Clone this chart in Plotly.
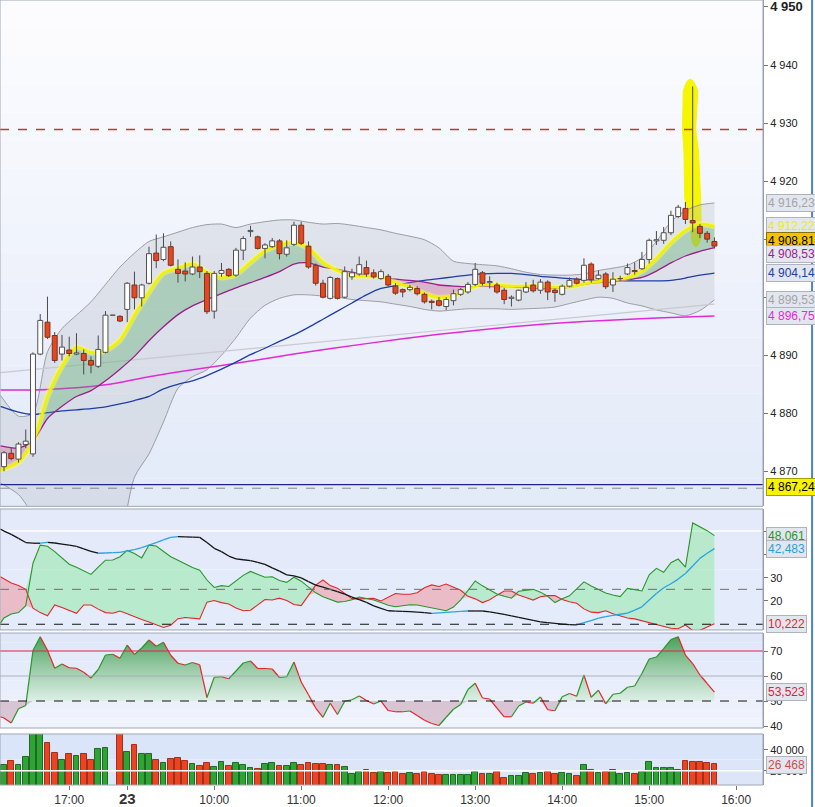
import plotly.graph_objects as go

# 5-minute bars, slot index on the x axis (slot 15 = overnight break)
bar_idx = list(range(99))
opens = [4870.8, 4873.1, 4872.1, 4874.6, 4873.0, 4890.2, 4895.7, 4893.4, 4890.2, 4890.9,
         4890.2, 4890.3, 4889.1, 4888.1, 4890.5, 4896.9, 4896.7, 4897.9, 4902.1, 4899.9,
         4902.4, 4907.6, 4906.5, 4908.7, 4904.8, 4904.5, 4904.0, 4905.2, 4904.1, 4897.6,
         4904.1, 4904.8, 4903.8, 4908.1, 4911.3, 4910.4, 4908.4, 4908.7, 4909.7, 4907.4,
         4909.1, 4912.4, 4908.8, 4905.5, 4902.4, 4899.8, 4903.2, 4900.0, 4903.5, 4904.0,
         4905.1, 4904.2, 4903.2, 4903.6, 4901.9, 4901.3, 4901.3, 4901.5, 4900.5, 4899.3,
         4899.4, 4898.4, 4899.4, 4900.5, 4900.9, 4902.2, 4904.2, 4902.5, 4902.1, 4901.2,
         4899.8, 4899.5, 4900.9, 4902.1, 4901.2, 4902.6, 4901.2, 4900.5, 4901.9, 4903.1,
         4902.9, 4905.7, 4903.2, 4904.0, 4902.1, 4903.2, 4904.0, 4904.6, 4904.9, 4906.5,
         4909.7, 4909.8, 4911.1, 4913.9, 4915.3, 4913.2, 4912.2, 4911.0, 4909.6]
highs = [4873.5, 4874.0, 4875.0, 4877.2, 4890.5, 4897.1, 4900.1, 4894.0, 4893.5, 4893.2,
         4893.8, 4891.0, 4889.8, 4893.4, 4897.6, 4896.9, 4896.9, 4902.6, 4904.4, 4902.3,
         4908.7, 4910.8, 4911.0, 4909.6, 4906.5, 4906.0, 4907.0, 4907.2, 4904.5, 4904.5,
         4905.9, 4905.0, 4908.5, 4910.5, 4912.3, 4910.6, 4909.3, 4910.2, 4910.0, 4909.8,
         4913.0, 4913.0, 4909.6, 4905.8, 4903.0, 4903.6, 4903.4, 4905.3, 4904.9, 4907.0,
         4906.3, 4904.8, 4904.8, 4904.0, 4902.4, 4901.5, 4902.1, 4901.9, 4900.8, 4899.6,
         4900.0, 4900.0, 4901.3, 4901.6, 4902.6, 4905.9, 4904.5, 4903.6, 4902.5, 4901.6,
         4900.3, 4901.3, 4902.6, 4903.0, 4903.1, 4902.9, 4901.5, 4902.2, 4903.4, 4903.4,
         4906.7, 4906.0, 4904.6, 4904.3, 4904.3, 4903.7, 4905.8, 4906.0, 4907.8, 4910.1,
         4911.4, 4912.1, 4914.9, 4915.9, 4916.4, 4936.3, 4912.6, 4911.4, 4910.3]
lows = [4870.0, 4871.9, 4871.5, 4874.0, 4872.5, 4890.0, 4892.8, 4888.7, 4889.1, 4889.8,
        4890.0, 4886.7, 4886.9, 4887.8, 4890.3, 4896.9, 4895.7, 4895.7, 4897.9, 4898.4,
        4902.2, 4905.0, 4906.2, 4905.3, 4902.5, 4902.7, 4903.8, 4903.3, 4897.1, 4896.3,
        4903.5, 4903.5, 4903.5, 4906.4, 4910.4, 4908.2, 4906.7, 4908.5, 4906.5, 4907.0,
        4908.8, 4909.0, 4904.9, 4902.0, 4899.8, 4899.6, 4899.6, 4899.8, 4903.0, 4903.7,
        4903.5, 4903.2, 4903.0, 4901.8, 4900.4, 4900.0, 4901.0, 4900.3, 4898.9, 4897.9,
        4898.4, 4897.8, 4898.6, 4900.2, 4900.6, 4901.9, 4902.0, 4901.5, 4900.6, 4898.8,
        4898.4, 4899.3, 4900.7, 4900.8, 4900.6, 4899.5, 4899.2, 4900.3, 4901.7, 4902.2,
        4902.5, 4902.5, 4903.0, 4901.4, 4900.9, 4902.8, 4903.8, 4903.9, 4904.7, 4905.8,
        4909.0, 4909.2, 4910.7, 4913.6, 4912.6, 4911.2, 4910.2, 4909.4, 4908.4]
closes = [4873.2, 4872.2, 4874.7, 4875.2, 4890.2, 4896.0, 4893.1, 4889.1, 4891.4, 4890.3,
          4890.4, 4889.1, 4888.3, 4891.0, 4896.9, 4896.9, 4895.9, 4902.4, 4899.9, 4902.1,
          4907.5, 4906.3, 4908.6, 4905.5, 4904.1, 4904.0, 4905.2, 4904.4, 4897.5, 4904.1,
          4904.6, 4903.7, 4908.1, 4910.1, 4911.5, 4908.4, 4909.0, 4909.7, 4907.5, 4908.5,
          4912.4, 4909.3, 4905.2, 4902.4, 4900.0, 4903.4, 4899.8, 4904.4, 4904.2, 4905.6,
          4904.0, 4903.5, 4904.4, 4902.1, 4900.7, 4900.9, 4901.7, 4900.6, 4899.2, 4899.1,
          4898.6, 4899.6, 4900.6, 4901.3, 4902.2, 4904.8, 4902.4, 4902.7, 4900.9, 4899.6,
          4900.0, 4901.2, 4901.7, 4901.1, 4902.6, 4900.9, 4900.8, 4901.9, 4902.9, 4902.4,
          4905.5, 4903.0, 4903.8, 4901.8, 4903.1, 4903.3, 4905.1, 4904.4, 4906.5, 4909.8,
          4909.9, 4911.1, 4914.1, 4915.5, 4913.4, 4912.8, 4911.0, 4910.0, 4908.81]
volumes = [25714, 29524, 25714, 33333, 58000, 62000, 46349, 36825, 30476, 35873,
           34286, 35873, 30476, 40952, 41587, None, 60000, 37778, 44762, 35873,
           35873, 30476, 27302, 31111, 32063, 29524, 26349, 24762, 27302, 23492,
           28254, 24762, 27302, 25397, 22540, 21587, 26349, 27302, 24762, 24762,
           27302, 25714, 27302, 26349, 26349, 25714, 25714, 23492, 16825, 18730,
           20952, 17778, 18730, 17778, 18730, 16825, 17778, 16825, 18730, 16825,
           16190, 16190, 16190, 15556, 16190, 18730, 17143, 17143, 18730, 12698,
           15238, 15238, 17778, 17143, 17778, 18730, 17143, 17778, 16825, 15238,
           25714, 20952, 17778, 18730, 20952, 16825, 17778, 17143, 18730, 28254,
           22540, 22540, 22540, 20952, 29524, 28254, 28254, 27302, 26468]

# overlays on the price panel, read every second slot
ov_x = [-0.5] + list(range(2, 99, 2))
ema_fast = [4870.2, 4871.6, 4875.0, 4882.9, 4888.1, 4891.4, 4890.5, 4890.8, 4892.6, 4896.9,
            4900.9, 4904.2, 4905.0, 4905.8, 4904.3, 4903.4, 4903.9, 4906.0, 4908.0, 4909.0,
            4909.4, 4908.5, 4906.0, 4904.6, 4903.7, 4903.6, 4903.5, 4902.5, 4901.7, 4900.6,
            4899.9, 4900.2, 4901.4, 4902.2, 4902.1, 4901.9, 4901.9, 4901.9, 4901.7, 4901.8,
            4902.3, 4902.7, 4903.0, 4903.4, 4904.5, 4906.7, 4909.4, 4911.5, 4912.6, 4912.22]
ema_slow = [4874.4, 4874.0, 4875.2, 4879.1, 4881.2, 4882.9, 4883.9, 4885.6, 4887.6, 4889.8,
            4892.5, 4894.9, 4897.0, 4898.5, 4899.6, 4900.6, 4901.6, 4902.5, 4903.4, 4904.4,
            4905.7, 4905.9, 4905.2, 4904.8, 4904.3, 4903.8, 4903.4, 4903.1, 4902.9, 4902.6,
            4902.1, 4901.9, 4901.8, 4901.9, 4901.8, 4901.8, 4901.6, 4901.5, 4901.5, 4901.7,
            4902.2, 4902.5, 4902.6, 4903.0, 4903.4, 4904.5, 4905.9, 4907.1, 4907.9, 4908.53]
bb_upper = [4883.1, 4879.5, 4880.0, 4890.6, 4894.6, 4896.9, 4899.2, 4902.2, 4905.2, 4907.6,
            4909.6, 4910.4, 4911.2, 4912.0, 4912.5, 4912.6, 4912.0, 4912.6, 4913.0, 4913.3,
            4913.3, 4912.9, 4912.6, 4912.7, 4912.4, 4912.0, 4911.6, 4911.0, 4910.5, 4909.9,
            4908.5, 4906.2, 4905.8, 4905.6, 4905.4, 4904.9, 4904.3, 4903.9, 4903.8, 4903.8,
            4904.0, 4904.6, 4905.0, 4905.5, 4906.8, 4909.6, 4913.0, 4914.9, 4915.9, 4916.23]
bb_lower = [4868.0, 4866.0, 4862.5, 4858.0, 4855.0, 4853.0, 4852.0, 4853.0, 4858.0, 4869.0,
            4873.0, 4878.5, 4884.3, 4886.3, 4887.5, 4890.0, 4893.0, 4896.4, 4898.6, 4899.8,
            4900.4, 4900.4, 4900.2, 4900.0, 4899.6, 4899.4, 4899.2, 4898.8, 4898.4, 4897.9,
            4897.6, 4897.8, 4898.0, 4898.0, 4898.0, 4897.9, 4898.0, 4898.1, 4898.3, 4898.9,
            4899.5, 4900.0, 4899.8, 4899.0, 4898.5, 4897.8, 4897.3, 4896.8, 4897.7, 4899.53]
ma_blue = [4881.2, 4880.2, 4879.8, 4880.1, 4880.4, 4880.6, 4880.8, 4881.1, 4881.6, 4882.2,
           4882.9, 4884.2, 4885.0, 4885.6, 4886.5, 4887.6, 4888.8, 4890.1, 4891.2, 4892.4,
           4893.5, 4894.8, 4896.2, 4897.6, 4899.0, 4900.4, 4901.5, 4902.0, 4902.5, 4902.9,
           4903.2, 4903.5, 4903.8, 4904.0, 4904.1, 4904.1, 4903.9, 4903.6, 4903.4, 4903.2,
           4903.0, 4902.9, 4902.9, 4902.8, 4902.8, 4902.8, 4902.9, 4903.3, 4903.8, 4904.14]
ma_long_x = [-0.5, 6, 14, 20, 26, 34, 40, 50, 60, 70, 80, 90, 98]
ma_long = [4884.0, 4884.1, 4884.9, 4886.3, 4887.5, 4889.0, 4890.2, 4892.0, 4893.6, 4894.9,
           4895.8, 4896.4, 4896.75]
trend_x = [-0.5, 98]
trend_y = [4887.0, 4898.8]
level_resist = 4928.9
level_prev = 4867.7
level_ref = 4867.24

# DMI / ADX panel, one value per slot
ind_x = [-0.5] + list(range(99))
plus_di = [10.4, 12.7, 14.4, 15.0, 18.0, 36.2, 44.0, 43.5, 41.2, 38.5,
           35.8, 34.5, 33.0, 31.4, 34.5, 37.5, 37.6, 39.0, 41.7, 40.4,
           38.5, 44.0, 43.6, 41.3, 39.0, 37.5, 35.8, 34.4, 33.2, 29.0,
           25.8, 26.6, 26.2, 28.5, 31.0, 32.7, 31.6, 30.2, 30.4, 28.8,
           28.0, 30.2, 28.5, 26.0, 23.5, 21.8, 20.8, 19.5, 19.8, 20.5,
           21.7, 21.2, 20.4, 19.3, 18.2, 17.5, 17.8, 18.4, 18.3, 17.6,
           16.9, 16.2, 15.8, 17.4, 20.5, 24.5, 28.6, 26.5, 24.8, 23.0,
           22.0, 21.2, 24.2, 24.6, 25.0, 23.8, 22.0, 19.3, 21.0, 22.2,
           25.0, 28.2, 26.4, 24.8, 23.4, 22.6, 21.9, 25.4, 25.0, 24.3,
           31.2, 34.0, 32.3, 36.4, 38.0, 34.5, 53.5, 51.8, 50.2, 48.061]
minus_di = [30.4, 29.5, 27.7, 26.6, 25.0, 16.9, 15.0, 13.6, 18.3, 17.2,
            16.0, 14.7, 18.3, 18.3, 16.5, 15.0, 14.7, 15.7, 14.5, 13.1,
            12.0, 11.0, 9.8, 8.6, 9.6, 12.4, 12.9, 12.6, 12.3, 19.5,
            20.2, 19.3, 18.7, 17.0, 15.8, 16.0, 18.2, 20.6, 20.4, 21.2,
            20.2, 18.5, 18.0, 22.5, 26.8, 29.0, 26.6, 25.5, 23.2, 21.0,
            20.9, 20.9, 21.1, 20.0, 21.5, 23.2, 22.9, 22.9, 23.5, 25.7,
            26.9, 26.2, 27.3, 26.0, 24.6, 22.0, 20.9, 19.3, 20.5, 22.5,
            24.3, 24.3, 22.6, 21.5, 20.4, 21.8, 22.3, 22.3, 20.6, 19.7,
            19.0, 16.6, 15.2, 15.0, 15.8, 14.5, 13.6, 12.7, 12.3, 11.5,
            10.5, 9.9, 9.1, 8.3, 8.1, 9.7, 7.3, 7.4, 8.8, 10.222]
adx = [50.9, 50.0, 48.6, 46.9, 45.1, 44.8, 44.8, 45.2, 44.9, 44.4,
       44.0, 43.4, 42.4, 41.3, 40.5, 40.6, 40.8, 40.9, 41.5, 42.1,
       42.9, 44.0, 45.1, 46.2, 47.3, 47.6, 47.5, 47.4, 47.3, 45.1,
       42.6, 41.2, 39.3, 38.1, 37.7, 37.3, 36.6, 35.7, 34.2, 32.8,
       31.2, 30.8, 29.9, 28.3, 26.8, 25.9, 25.0, 24.0, 22.9, 21.7,
       20.6, 19.4, 17.9, 16.8, 15.8, 15.6, 15.5, 15.4, 15.2, 15.0,
       14.7, 14.9, 15.1, 15.3, 15.5, 15.7, 15.7, 15.7, 15.3, 14.8,
       14.2, 13.6, 13.0, 12.3, 11.7, 11.0, 10.7, 10.4, 10.1, 9.8,
       9.7, 10.7, 11.6, 12.6, 13.3, 13.8, 14.3, 14.8, 16.1, 17.5,
       20.4, 23.2, 25.7, 27.4, 29.4, 31.8, 35.0, 38.3, 40.5, 42.483]
rsi = [43.7, 43.2, 41.2, 46.9, 48.2, 70.2, 75.7, 70.3, 63.1, 64.8,
       63.3, 63.1, 61.5, 59.2, 62.6, 68.4, 68.7, 67.1, 72.4, 68.6,
       71.2, 74.4, 71.9, 73.5, 68.3, 65.1, 64.4, 65.4, 64.5, 51.4,
       59.5, 59.7, 58.9, 62.0, 65.2, 66.0, 63.0, 63.0, 62.8, 59.4,
       59.7, 65.6, 57.6, 52.5, 47.2, 43.5, 49.1, 44.6, 49.9, 50.5,
       52.0, 50.2, 48.8, 50.0, 46.2, 45.7, 45.7, 46.0, 44.2, 42.3,
       41.0, 40.2, 43.5, 46.7, 48.6, 54.6, 57.1, 51.2, 50.8, 47.2,
       43.7, 43.7, 48.0, 49.6, 49.1, 51.6, 46.5, 46.1, 51.7, 53.0,
       51.9, 60.4, 51.5, 54.3, 48.9, 52.7, 53.1, 55.5, 56.0, 61.0,
       66.8, 67.6, 71.0, 74.6, 75.7, 68.4, 65.0, 60.4, 57.0, 53.523]

x_tick_pos = [9, 17, 29, 41, 53, 65, 77, 89, 101]
x_tick_text = ["17:00", '<span style="font-size:15px"><b>23</b></span>', "10:00", "11:00",
               "12:00", "13:00", "14:00", "15:00", "16:00"]

FONT = "Liberation Sans"
UP_LINE, UP_FILL = "#505050", "#ffffff"
DN_LINE, DN_FILL = "#7a3322", "#e8461e"


def fmt_price(v):
    return f"{v:,.2f}".replace(",", " ").replace(".", ",")


def slope_segments(xs, ys):
    up_x, up_y, dn_x, dn_y = [], [], [], []
    for i in range(len(xs) - 1):
        if ys[i + 1] > ys[i]:
            up_x += [xs[i], xs[i + 1], None]
            up_y += [ys[i], ys[i + 1], None]
        else:
            dn_x += [xs[i], xs[i + 1], None]
            dn_y += [ys[i], ys[i + 1], None]
    return up_x, up_y, dn_x, dn_y


def band_fill(fig, xs, base, other, col_up, col_dn, yaxis, shape="linear", grad_up=None):
    hi = [max(a, b) for a, b in zip(other, base)]
    lo = [min(a, b) for a, b in zip(other, base)]
    for part, col, grad in ((hi, col_up, grad_up), (lo, col_dn, None)):
        fig.add_trace(go.Scatter(x=xs, y=base, mode="lines", yaxis=yaxis,
                                 line=dict(width=0, shape=shape, smoothing=0.7), hoverinfo="skip"))
        kw = dict(fillgradient=grad) if grad else dict(fillcolor=col)
        fig.add_trace(go.Scatter(x=xs, y=part, mode="lines", yaxis=yaxis, fill="tonexty",
                                 line=dict(width=0, shape=shape, smoothing=0.7), hoverinfo="skip", **kw))


fig = go.Figure()

# ---- price panel ----
sp = dict(shape="spline", smoothing=0.7)
fig.add_trace(go.Scatter(x=ov_x, y=bb_lower, mode="lines", line=dict(width=0, **sp), hoverinfo="skip"))
fig.add_trace(go.Scatter(x=ov_x, y=bb_upper, mode="lines", line=dict(width=0, **sp), fill="tonexty",
                         fillcolor="rgba(180,182,190,0.28)", hoverinfo="skip"))
for band in (bb_upper, bb_lower):
    fig.add_trace(go.Scatter(x=ov_x, y=band, mode="lines", line=dict(color="#9c9ca4", width=1, **sp)))
fig.add_trace(go.Scatter(x=trend_x, y=trend_y, mode="lines", line=dict(color="#c9c9cf", width=1.2)))
fig.add_trace(go.Scatter(x=ma_long_x, y=ma_long, mode="lines", line=dict(color="#e22ad6", width=1.5, **sp)))
fig.add_trace(go.Scatter(x=ov_x, y=ma_blue, mode="lines", line=dict(color="#1f3ea6", width=1.3, **sp)))
band_fill(fig, ov_x, ema_slow, ema_fast, "rgba(70,165,90,0.32)", "rgba(215,85,130,0.32)", "y", "spline")
fig.add_trace(go.Scatter(x=ov_x, y=ema_slow, mode="lines", line=dict(color="#9a1f8c", width=1.3, **sp)))
fig.add_trace(go.Scatter(x=ov_x, y=ema_fast, mode="lines", line=dict(color="rgba(255,255,90,0.45)", width=6, **sp)))
fig.add_trace(go.Scatter(x=ov_x, y=ema_fast, mode="lines", line=dict(color="#f2f200", width=2.6, **sp)))

# candles: wicks then bodies, drawn from OHLC
wx, wy = [], []
bodies = {True: ([], []), False: ([], [])}
hw = 0.34
for i, o, h, l, c in zip(bar_idx, opens, highs, lows, closes):
    wx += [i, i, None]
    wy += [l, h, None]
    bx, by = bodies[c >= o]
    bx += [i - hw, i + hw, i + hw, i - hw, i - hw, None]
    by += [o, o, c, c, o, None]
fig.add_trace(go.Scatter(x=wx, y=wy, mode="lines", line=dict(color="#4a4a4a", width=1)))
for up, (bx, by) in bodies.items():
    fig.add_trace(go.Scatter(x=bx, y=by, mode="lines", fill="toself",
                             fillcolor=UP_FILL if up else DN_FILL,
                             line=dict(color=UP_LINE if up else DN_LINE, width=1)))

# ---- DMI panel ----
band_fill(fig, ind_x, minus_di, plus_di, "rgba(130,232,150,0.45)", "rgba(240,140,150,0.50)", "y2")
fig.add_trace(go.Scatter(x=ind_x, y=minus_di, mode="lines", yaxis="y2", line=dict(color="#e5262a", width=1.1)))
fig.add_trace(go.Scatter(x=ind_x, y=plus_di, mode="lines", yaxis="y2", line=dict(color="#2a962a", width=1.1)))
ux, uy, dx, dy = slope_segments(ind_x, adx)
fig.add_trace(go.Scatter(x=dx, y=dy, mode="lines", yaxis="y2", line=dict(color="#151515", width=1.3)))
fig.add_trace(go.Scatter(x=ux, y=uy, mode="lines", yaxis="y2", line=dict(color="#2ba3e2", width=1.3)))

# ---- RSI panel ----
rsi_mid = [50] * len(ind_x)
band_fill(fig, ind_x, rsi_mid, rsi, None, "rgba(200,160,176,0.55)", "y3",
          grad_up=dict(type="vertical", start=50, stop=77,
                       colorscale=[[0, "rgba(215,238,222,0.75)"], [1, "rgb(62,155,80)"]]))
ux, uy, dx, dy = slope_segments(ind_x, rsi)
fig.add_trace(go.Scatter(x=dx, y=dy, mode="lines", yaxis="y3", line=dict(color="#e5262a", width=1.2)))
fig.add_trace(go.Scatter(x=ux, y=uy, mode="lines", yaxis="y3", line=dict(color="#2a962a", width=1.2)))

# ---- volume panel ----
vol_up = [c >= o for o, c in zip(opens, closes)]
fig.add_trace(go.Bar(x=bar_idx, y=volumes, yaxis="y4", width=0.8,
                     marker=dict(color=["#2fa334" if u else "#ec4420" for u in vol_up],
                                 line=dict(color=["#1d6a20" if u else "#a1301a" for u in vol_up], width=1))))

# ---- layout ----
dom_main, dom_dmi, dom_rsi, dom_vol = [0.355, 1.0], [0.1975, 0.3516], [0.0726, 0.1936], [0.0, 0.065]
axis_common = dict(side="right", anchor="x", showgrid=False, zeroline=False, showline=True,
                   linecolor="#8c96aa", ticks="outside", ticklen=4, tickcolor="#777",
                   ticklabeloverflow="allow",
                   tickfont=dict(family=FONT, size=11, color="#222"), fixedrange=True)
main_ticks = list(range(4870, 4951, 10))
main_text = [f"{v:,}".replace(",", " ") for v in main_ticks]
main_text[-1] = '<span style="font-size:13px"><b>4 950</b></span>'

shapes = []


def gradient(yref, top, bottom, n=18):
    for k in range(n):
        t = (k + 0.5) / n
        col = tuple(round(top[j] + (bottom[j] - top[j]) * t) for j in range(3))
        shapes.append(dict(type="rect", xref="paper", yref=yref, x0=0, x1=1,
                           y0=1 - (k + 1) / n, y1=1 - k / n, layer="below",
                           fillcolor=f"rgb{col}", line=dict(width=0)))


gradient("y domain", (253, 253, 255), (226, 233, 248))
gradient("y2 domain", (227, 234, 250), (229, 236, 251), 2)
gradient("y3 domain", (222, 230, 249), (241, 244, 252), 10)
gradient("y4 domain", (218, 228, 249), (222, 231, 249), 2)

# yellow highlighter stroke drawn on the spike
shapes.append(dict(type="path", xref="x", yref="y", layer="below", fillcolor="#f6f600",
                   line=dict(color="#f6f600", width=1),
                   path="M 93.7 4935.5 Q 94.6 4939.6 95.7 4935.5 L 95.4 4929 L 95.8 4925 "
                        "L 96.1 4917 L 96.2 4910.5 Q 95.6 4907.4 94.9 4909.6 L 94.6 4914 "
                        "L 93.9 4917 L 93.8 4925 L 93.6 4929 Z"))


def hline(yref, y, color, width=1, dash="solid", layer="above"):
    shapes.append(dict(type="line", xref="paper", yref=yref, x0=0, x1=1, y0=y, y1=y,
                       layer=layer, line=dict(color=color, width=width, dash=dash)))


hline("y", level_resist, "#c0393a", 1.6, "dash")
hline("y", level_prev, "#1c2580", 1.2)
hline("y", level_ref - 0.15, "#8a8a8a", 1, "dash")
hline("y2", 50, "#ffffff", 1.5, layer="below")
hline("y2", 25, "#6e6e6e", 1, "dash")
hline("y2", 10, "#111111", 1.2, "dash")
hline("y3", 70, "#e0204a", 1.2)
hline("y3", 60, "rgba(160,165,180,0.8)", 1)
hline("y3", 50, "#111111", 1.2, "dash")
hline("y4", 20000, "#ffffff", 1.5)

for yref in ("y", "y2", "y3", "y4"):
    shapes.append(dict(type="rect", xref="paper", yref=f"{yref} domain", x0=0, x1=1, y0=0, y1=1,
                       layer="above", line=dict(color="#9ea6b6", width=1)))
shapes.append(dict(type="line", xref="paper", yref="paper", x0=1.0643, x1=1.0643, y0=-0.03, y1=1,
                   line=dict(color="#4d82d2", width=2)))

annotations = []


def value_box(yref, y, text, color, bg="#e2e6ee", border="#aeb3bd"):
    annotations.append(dict(xref="paper", yref=yref, x=1.0035, y=y, xanchor="left", yanchor="middle",
                            text=text, showarrow=False, bgcolor=bg, bordercolor=border, borderwidth=1,
                            borderpad=1, font=dict(family=FONT, size=12, color=color)))


last_close = closes[-1]
value_box("y", bb_upper[-1], fmt_price(bb_upper[-1]), "#a4a4a8")
value_box("y", ema_fast[-1], fmt_price(ema_fast[-1]), "#eeee00")
value_box("y", last_close + 0.8, fmt_price(last_close), "#000000", "#f2c300", "#8a7000")
value_box("y", ema_slow[-1] - 1.1, fmt_price(ema_slow[-1]), "#9a1f8c")
value_box("y", ma_blue[-1], fmt_price(ma_blue[-1]), "#1f3ea6")
value_box("y", bb_lower[-1], fmt_price(bb_lower[-1]), "#a4a4a8")
value_box("y", ma_long[-1], fmt_price(ma_long[-1]), "#e22ad6")
value_box("y", level_ref, fmt_price(level_ref), "#000000", "#f8f400", "#a0a000")
value_box("y2", plus_di[-1], f"{plus_di[-1]:.3f}".replace(".", ","), "#2a962a")
value_box("y2", adx[-1], f"{adx[-1]:.3f}".replace(".", ","), "#2b9fe0")
value_box("y2", minus_di[-1], f"{minus_di[-1]:.3f}".replace(".", ","), "#e5262a")
value_box("y3", rsi[-1], f"{rsi[-1]:.3f}".replace(".", ","), "#e0203a")
value_box("y4", volumes[-1] - 500, f"{volumes[-1]:,}".replace(",", " "), "#c85050")

fig.update_layout(
    width=815, height=807, margin=dict(l=0, r=52, t=0, b=22),
    paper_bgcolor="white", plot_bgcolor="rgba(0,0,0,0)", showlegend=False,
    xaxis=dict(range=[-0.55, 104.7], domain=[0, 1], anchor="y4", showgrid=False, zeroline=False,
               tickvals=x_tick_pos, ticktext=x_tick_text, ticks="outside", ticklen=4, tickcolor="#777",
               tickfont=dict(family=FONT, size=12, color="#333"), fixedrange=True),
    yaxis=dict(domain=dom_main, range=[4863.97, 4951.2], tickvals=main_ticks, ticktext=main_text,
               **axis_common),
    yaxis2=dict(domain=dom_dmi, range=[7.55, 59.5], tickvals=[20, 30, 40, 50], **axis_common),
    yaxis3=dict(domain=dom_rsi, range=[39.2, 77.2], tickvals=[40, 50, 60, 70], **axis_common),
    yaxis4=dict(domain=dom_vol, range=[6184, 55459], tickvals=[20000, 40000],
                ticktext=["20 000", "40 000"], **axis_common),
    shapes=shapes, annotations=annotations, bargap=0,
)

# the page body has a default 8px margin; drop it so the chart sits at the window corner
fig.write_html("out.html", post_script="document.body.style.margin='0px';",
               config={"displayModeBar": False})
